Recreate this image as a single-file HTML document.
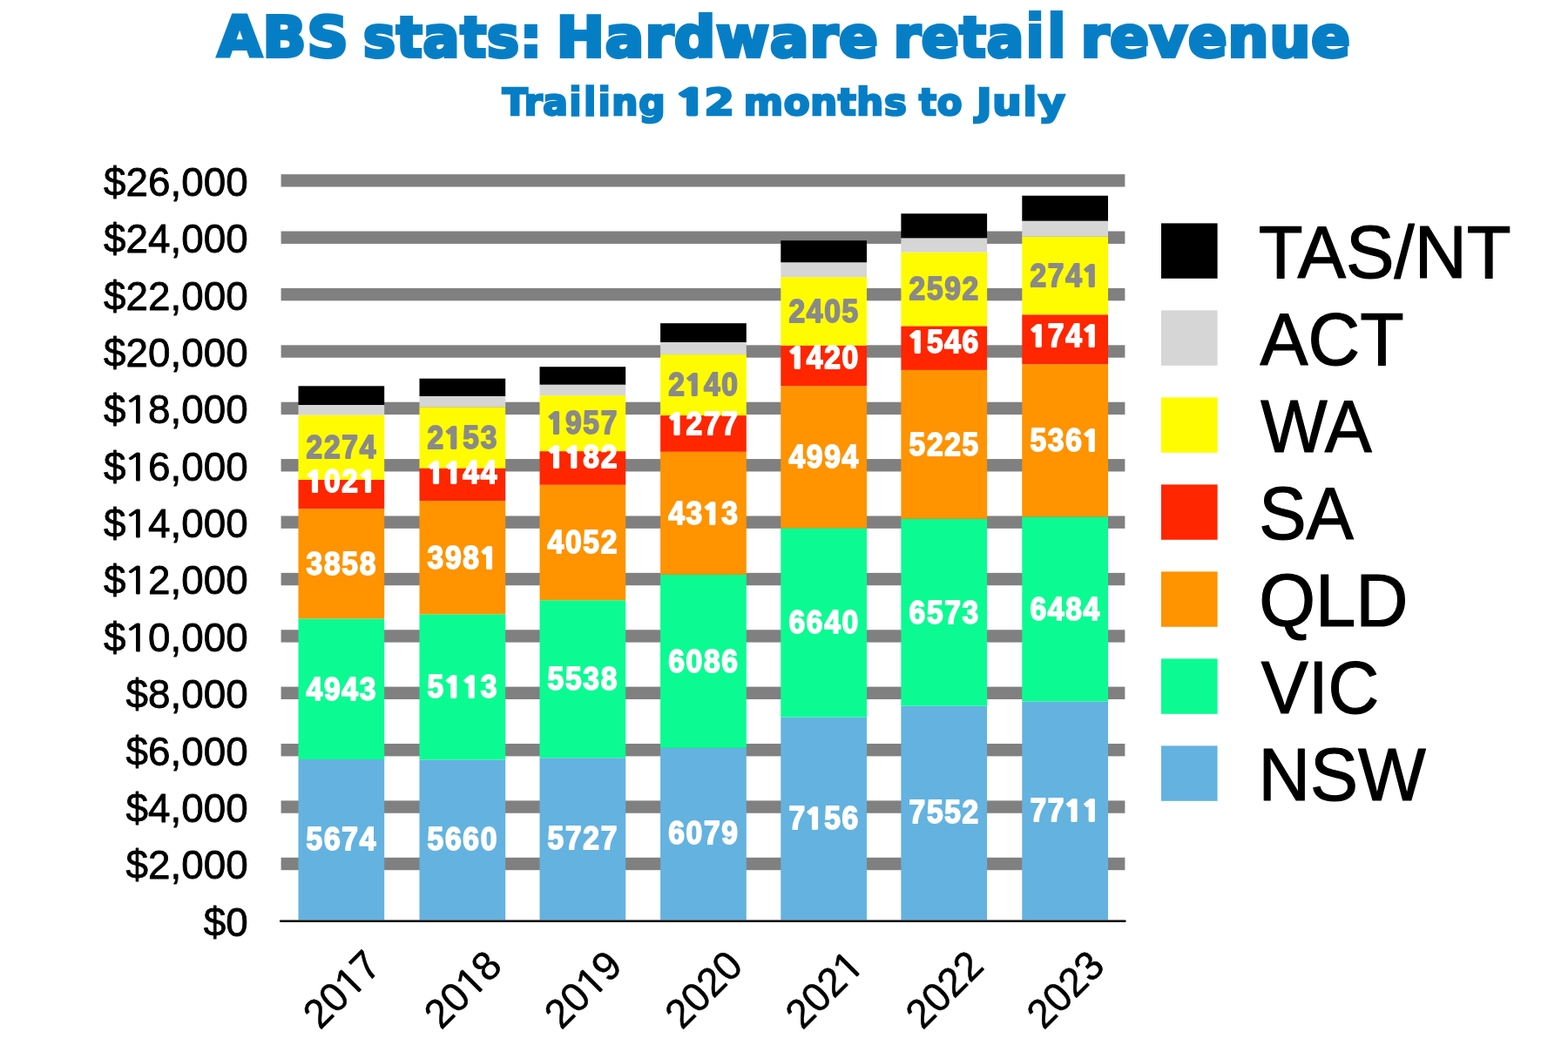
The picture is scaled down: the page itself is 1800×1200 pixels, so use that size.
<!DOCTYPE html>
<html lang="en"><head><meta charset="utf-8"><title>ABS stats: Hardware retail revenue</title>
<style>
html,body{margin:0;padding:0;background:#fff;}
body{width:1800px;height:1200px;overflow:hidden;}
svg{display:block;}
text{font-family:"Liberation Sans",sans-serif;}
.t text{font-family:"DejaVu Sans","Liberation Sans",sans-serif;font-weight:bold;fill:#067EC6;stroke:#067EC6;stroke-linejoin:miter;stroke-miterlimit:2.5;}
.t .ti{font-size:70px;stroke-width:2px;}.t .si{font-size:46.4px;stroke-width:1.4px;}
.t .o3{font-family:"NanumGothic","DejaVu Sans",sans-serif;font-weight:800;font-size:39.3px;stroke-width:3;letter-spacing:0;}
.ax{font-size:46px;fill:#000;text-anchor:start;stroke:#000;stroke-width:0.8;stroke-linejoin:round;}
.xl{font-size:46px;fill:#000;text-anchor:start;stroke:#000;stroke-width:0.55;stroke-linejoin:round;}
.lg{font-size:84px;fill:#000;stroke:#000;stroke-width:1.2;stroke-linejoin:round;}
.dl{font-size:37.5px;font-weight:bold;text-anchor:start;fill:#fff;stroke:#fff;stroke-width:1.8;stroke-linejoin:round;letter-spacing:1.9px;}
.dg{fill:#8A8A8A;stroke:#8A8A8A;}
.o1{font-family:"NanumGothic","Liberation Sans",sans-serif;font-weight:400;font-size:42.4px;stroke-width:0.8;}
.o2{font-family:"NanumGothic","Liberation Sans",sans-serif;font-weight:800;font-size:33.2px;stroke-width:1.8;stroke-linejoin:miter;letter-spacing:0;}
</style></head><body>
<svg width="1800" height="1200" viewBox="0 0 1800 1200">
<rect width="1800" height="1200" fill="#fff"/>
<g class="t" font-size="63.8" stroke-width="4" letter-spacing="1">
<text x="249.67" y="64.7" textLength="150.96" lengthAdjust="spacingAndGlyphs">ABS</text>
<text x="417.06" y="64.7" textLength="205.64" lengthAdjust="spacingAndGlyphs">stats:</text>
<text x="638.69" y="64.7" textLength="370.12" lengthAdjust="spacingAndGlyphs">Hardware</text>
<text x="1025.72" y="64.7" textLength="200.04" lengthAdjust="spacingAndGlyphs">reta<tspan class="ti" dy="1">il</tspan></text>
<text x="1240.85" y="64.7" textLength="310.20" lengthAdjust="spacingAndGlyphs">revenue</text>
</g>
<g class="t" font-size="42.4" stroke-width="2.6" letter-spacing="0.7">
<text x="576.79" y="132.2" textLength="187.45" lengthAdjust="spacingAndGlyphs">Tra<tspan class="si" dy="0.6">ili</tspan><tspan dy="-0.6">ng</tspan></text>
<text x="774.40 808.45" y="132.2"><tspan class="o3" textLength="37.69" lengthAdjust="spacingAndGlyphs">1</tspan><tspan textLength="35.21" lengthAdjust="spacingAndGlyphs">2</tspan></text>
<text x="853.76" y="132.2" textLength="187.83" lengthAdjust="spacingAndGlyphs">months</text>
<text x="1055.12" y="132.2" textLength="50.06" lengthAdjust="spacingAndGlyphs">to</text>
<text x="1121.05" y="132.2" textLength="102.31" lengthAdjust="spacingAndGlyphs">Ju<tspan class="si" dy="0.6">l</tspan><tspan dy="-0.6">y</tspan></text>
</g>
<g fill="#808080">
<rect x="322.6" y="984.77" width="968.8" height="14.4"/>
<rect x="322.6" y="919.38" width="968.8" height="14.4"/>
<rect x="322.6" y="854.00" width="968.8" height="14.4"/>
<rect x="322.6" y="788.61" width="968.8" height="14.4"/>
<rect x="322.6" y="723.23" width="968.8" height="14.4"/>
<rect x="322.6" y="657.84" width="968.8" height="14.4"/>
<rect x="322.6" y="592.46" width="968.8" height="14.4"/>
<rect x="322.6" y="527.07" width="968.8" height="14.4"/>
<rect x="322.6" y="461.69" width="968.8" height="14.4"/>
<rect x="322.6" y="396.30" width="968.8" height="14.4"/>
<rect x="322.6" y="330.92" width="968.8" height="14.4"/>
<rect x="322.6" y="265.53" width="968.8" height="14.4"/>
<rect x="322.6" y="200.15" width="968.8" height="14.4"/>
</g>
<g>
<text class="ax" transform="translate(284.6 1074.80) scale(0.996 1.02)" x="-51.17 -25.59" y="0 0">$0</text>
<text class="ax" transform="translate(284.6 1009.42) scale(0.996 1.02)" x="-140.70 -115.12 -89.53 -76.76 -51.17 -25.59" y="0 0 0 0 0 0">$2,000</text>
<text class="ax" transform="translate(284.6 944.03) scale(0.996 1.02)" x="-140.70 -115.12 -89.53 -76.76 -51.17 -25.59" y="0 0 0 0 0 0">$4,000</text>
<text class="ax" transform="translate(284.6 878.65) scale(0.996 1.02)" x="-140.70 -115.12 -89.53 -76.76 -51.17 -25.59" y="0 0 0 0 0 0">$6,000</text>
<text class="ax" transform="translate(284.6 813.26) scale(0.996 1.02)" x="-140.70 -115.12 -89.53 -76.76 -51.17 -25.59" y="0 0 0 0 0 0">$8,000</text>
<text class="ax" transform="translate(284.6 747.88) scale(0.996 1.02)" x="-166.29 -144.55 -115.12 -89.53 -76.76 -51.17 -25.59" y="0 0 0 0 0 0 0">$<tspan class="o1" textLength="32.12" lengthAdjust="spacingAndGlyphs">1</tspan>0,000</text>
<text class="ax" transform="translate(284.6 682.49) scale(0.996 1.02)" x="-166.29 -144.55 -115.12 -89.53 -76.76 -51.17 -25.59" y="0 0 0 0 0 0 0">$<tspan class="o1" textLength="32.12" lengthAdjust="spacingAndGlyphs">1</tspan>2,000</text>
<text class="ax" transform="translate(284.6 617.11) scale(0.996 1.02)" x="-166.29 -144.55 -115.12 -89.53 -76.76 -51.17 -25.59" y="0 0 0 0 0 0 0">$<tspan class="o1" textLength="32.12" lengthAdjust="spacingAndGlyphs">1</tspan>4,000</text>
<text class="ax" transform="translate(284.6 551.72) scale(0.996 1.02)" x="-166.29 -144.55 -115.12 -89.53 -76.76 -51.17 -25.59" y="0 0 0 0 0 0 0">$<tspan class="o1" textLength="32.12" lengthAdjust="spacingAndGlyphs">1</tspan>6,000</text>
<text class="ax" transform="translate(284.6 486.34) scale(0.996 1.02)" x="-166.29 -144.55 -115.12 -89.53 -76.76 -51.17 -25.59" y="0 0 0 0 0 0 0">$<tspan class="o1" textLength="32.12" lengthAdjust="spacingAndGlyphs">1</tspan>8,000</text>
<text class="ax" transform="translate(284.6 420.95) scale(0.996 1.02)" x="-166.29 -140.70 -115.12 -89.53 -76.76 -51.17 -25.59" y="0 0 0 0 0 0 0">$20,000</text>
<text class="ax" transform="translate(284.6 355.57) scale(0.996 1.02)" x="-166.29 -140.70 -115.12 -89.53 -76.76 -51.17 -25.59" y="0 0 0 0 0 0 0">$22,000</text>
<text class="ax" transform="translate(284.6 290.18) scale(0.996 1.02)" x="-166.29 -140.70 -115.12 -89.53 -76.76 -51.17 -25.59" y="0 0 0 0 0 0 0">$24,000</text>
<text class="ax" transform="translate(284.6 224.80) scale(0.996 1.02)" x="-166.29 -140.70 -115.12 -89.53 -76.76 -51.17 -25.59" y="0 0 0 0 0 0 0">$26,000</text>
</g>
<g>
<rect x="342.50" y="872.00" width="98.70" height="184.40" fill="#64B2E0"/>
<rect x="342.50" y="710.41" width="98.70" height="161.60" fill="#0BFB92"/>
<rect x="342.50" y="584.28" width="98.70" height="126.13" fill="#FF9300"/>
<rect x="342.50" y="550.90" width="98.70" height="33.38" fill="#FF2600"/>
<rect x="342.50" y="476.56" width="98.70" height="74.34" fill="#FFFB00"/>
<rect x="342.50" y="465.00" width="98.70" height="11.56" fill="#D6D6D6"/>
<rect x="342.50" y="443.30" width="98.70" height="21.70" fill="#000000"/>
<text class="dl" transform="translate(392.35 975.95) scale(0.895 1)" x="-45.52 -22.76 0.00 22.76" y="0 0 0 0">5674</text>
<text class="dl" transform="translate(392.35 803.65) scale(0.895 1)" x="-45.52 -22.76 0.00 22.76" y="0 0 0 0">4943</text>
<text class="dl" transform="translate(392.35 659.79) scale(0.895 1)" x="-45.52 -22.76 0.00 22.76" y="0 0 0 0">3858</text>
<text class="dl" transform="translate(392.35 564.53) scale(0.895 1)" x="-48.02 -22.76 0.00 20.26" y="0 0 0 0"><tspan class="o2" textLength="25.15" lengthAdjust="spacingAndGlyphs">1</tspan>02<tspan class="o2" textLength="25.15" lengthAdjust="spacingAndGlyphs">1</tspan></text>
<text class="dl dg" transform="translate(392.35 525.88) scale(0.895 1)" x="-45.52 -22.76 0.00 22.76" y="0 0 0 0">2274</text>
</g>
<g>
<rect x="481.50" y="872.46" width="98.70" height="183.94" fill="#64B2E0"/>
<rect x="481.50" y="705.31" width="98.70" height="167.16" fill="#0BFB92"/>
<rect x="481.50" y="575.16" width="98.70" height="130.15" fill="#FF9300"/>
<rect x="481.50" y="537.76" width="98.70" height="37.40" fill="#FF2600"/>
<rect x="481.50" y="467.37" width="98.70" height="70.39" fill="#FFFB00"/>
<rect x="481.50" y="455.00" width="98.70" height="12.37" fill="#D6D6D6"/>
<rect x="481.50" y="434.70" width="98.70" height="20.30" fill="#000000"/>
<text class="dl" transform="translate(531.35 976.18) scale(0.895 1)" x="-45.52 -22.76 0.00 22.76" y="0 0 0 0">5660</text>
<text class="dl" transform="translate(531.35 801.33) scale(0.895 1)" x="-45.52 -25.26 -2.50 22.76" y="0 0 0 0">5<tspan class="o2" textLength="25.15" lengthAdjust="spacingAndGlyphs">1</tspan><tspan class="o2" textLength="25.15" lengthAdjust="spacingAndGlyphs">1</tspan>3</text>
<text class="dl" transform="translate(531.35 652.68) scale(0.895 1)" x="-45.52 -22.76 0.00 20.26" y="0 0 0 0">398<tspan class="o2" textLength="25.15" lengthAdjust="spacingAndGlyphs">1</tspan></text>
<text class="dl" transform="translate(531.35 555.41) scale(0.895 1)" x="-48.02 -25.26 0.00 22.76" y="0 0 0 0"><tspan class="o2" textLength="25.15" lengthAdjust="spacingAndGlyphs">1</tspan><tspan class="o2" textLength="25.15" lengthAdjust="spacingAndGlyphs">1</tspan>44</text>
<text class="dl dg" transform="translate(531.35 514.71) scale(0.895 1)" x="-45.52 -25.26 0.00 22.76" y="0 0 0 0">2<tspan class="o2" textLength="25.15" lengthAdjust="spacingAndGlyphs">1</tspan>53</text>
</g>
<g>
<rect x="619.50" y="870.27" width="98.70" height="186.13" fill="#64B2E0"/>
<rect x="619.50" y="689.22" width="98.70" height="181.05" fill="#0BFB92"/>
<rect x="619.50" y="556.75" width="98.70" height="132.47" fill="#FF9300"/>
<rect x="619.50" y="518.11" width="98.70" height="38.64" fill="#FF2600"/>
<rect x="619.50" y="454.13" width="98.70" height="63.98" fill="#FFFB00"/>
<rect x="619.50" y="441.70" width="98.70" height="12.43" fill="#D6D6D6"/>
<rect x="619.50" y="421.20" width="98.70" height="20.50" fill="#000000"/>
<text class="dl" transform="translate(669.35 975.09) scale(0.895 1)" x="-45.52 -22.76 0.00 22.76" y="0 0 0 0">5727</text>
<text class="dl" transform="translate(669.35 792.20) scale(0.895 1)" x="-45.52 -22.76 0.00 22.76" y="0 0 0 0">5538</text>
<text class="dl" transform="translate(669.35 635.44) scale(0.895 1)" x="-45.52 -22.76 0.00 22.76" y="0 0 0 0">4052</text>
<text class="dl" transform="translate(669.35 537.00) scale(0.895 1)" x="-48.02 -25.26 0.00 22.76" y="0 0 0 0"><tspan class="o2" textLength="25.15" lengthAdjust="spacingAndGlyphs">1</tspan><tspan class="o2" textLength="25.15" lengthAdjust="spacingAndGlyphs">1</tspan>82</text>
<text class="dl dg" transform="translate(669.35 498.27) scale(0.895 1)" x="-48.02 -22.76 0.00 22.76" y="0 0 0 0"><tspan class="o2" textLength="25.15" lengthAdjust="spacingAndGlyphs">1</tspan>957</text>
</g>
<g>
<rect x="758.10" y="858.76" width="98.70" height="197.64" fill="#64B2E0"/>
<rect x="758.10" y="659.80" width="98.70" height="198.97" fill="#0BFB92"/>
<rect x="758.10" y="518.80" width="98.70" height="141.00" fill="#FF9300"/>
<rect x="758.10" y="477.05" width="98.70" height="41.75" fill="#FF2600"/>
<rect x="758.10" y="407.09" width="98.70" height="69.96" fill="#FFFB00"/>
<rect x="758.10" y="393.00" width="98.70" height="14.09" fill="#D6D6D6"/>
<rect x="758.10" y="371.20" width="98.70" height="21.80" fill="#000000"/>
<text class="dl" transform="translate(807.95 969.33) scale(0.895 1)" x="-45.52 -22.76 0.00 22.76" y="0 0 0 0">6079</text>
<text class="dl" transform="translate(807.95 771.73) scale(0.895 1)" x="-45.52 -22.76 0.00 22.76" y="0 0 0 0">6086</text>
<text class="dl" transform="translate(807.95 601.75) scale(0.895 1)" x="-45.52 -22.76 -2.50 22.76" y="0 0 0 0">43<tspan class="o2" textLength="25.15" lengthAdjust="spacingAndGlyphs">1</tspan>3</text>
<text class="dl" transform="translate(807.95 499.05) scale(0.895 1)" x="-48.02 -22.76 0.00 22.76" y="0 0 0 0"><tspan class="o2" textLength="25.15" lengthAdjust="spacingAndGlyphs">1</tspan>277</text>
<text class="dl dg" transform="translate(807.95 454.22) scale(0.895 1)" x="-45.52 -25.26 0.00 22.76" y="0 0 0 0">2<tspan class="o2" textLength="25.15" lengthAdjust="spacingAndGlyphs">1</tspan>40</text>
</g>
<g>
<rect x="896.30" y="823.55" width="98.70" height="232.85" fill="#64B2E0"/>
<rect x="896.30" y="606.48" width="98.70" height="217.08" fill="#0BFB92"/>
<rect x="896.30" y="443.21" width="98.70" height="163.27" fill="#FF9300"/>
<rect x="896.30" y="396.79" width="98.70" height="46.42" fill="#FF2600"/>
<rect x="896.30" y="318.16" width="98.70" height="78.62" fill="#FFFB00"/>
<rect x="896.30" y="301.30" width="98.70" height="16.86" fill="#D6D6D6"/>
<rect x="896.30" y="276.20" width="98.70" height="25.10" fill="#000000"/>
<text class="dl" transform="translate(946.15 951.73) scale(0.895 1)" x="-45.52 -25.26 0.00 22.76" y="0 0 0 0">7<tspan class="o2" textLength="25.15" lengthAdjust="spacingAndGlyphs">1</tspan>56</text>
<text class="dl" transform="translate(946.15 727.47) scale(0.895 1)" x="-45.52 -22.76 0.00 22.76" y="0 0 0 0">6640</text>
<text class="dl" transform="translate(946.15 537.29) scale(0.895 1)" x="-45.52 -22.76 0.00 22.76" y="0 0 0 0">4994</text>
<text class="dl" transform="translate(946.15 423.46) scale(0.895 1)" x="-48.02 -22.76 0.00 22.76" y="0 0 0 0"><tspan class="o2" textLength="25.15" lengthAdjust="spacingAndGlyphs">1</tspan>420</text>
<text class="dl dg" transform="translate(946.15 369.63) scale(0.895 1)" x="-45.52 -22.76 0.00 22.76" y="0 0 0 0">2405</text>
</g>
<g>
<rect x="1034.40" y="810.61" width="98.70" height="245.79" fill="#64B2E0"/>
<rect x="1034.40" y="595.72" width="98.70" height="214.89" fill="#0BFB92"/>
<rect x="1034.40" y="424.90" width="98.70" height="170.82" fill="#FF9300"/>
<rect x="1034.40" y="374.36" width="98.70" height="50.54" fill="#FF2600"/>
<rect x="1034.40" y="289.62" width="98.70" height="84.74" fill="#FFFB00"/>
<rect x="1034.40" y="273.30" width="98.70" height="16.32" fill="#D6D6D6"/>
<rect x="1034.40" y="245.30" width="98.70" height="28.00" fill="#000000"/>
<text class="dl" transform="translate(1084.25 945.25) scale(0.895 1)" x="-45.52 -22.76 0.00 22.76" y="0 0 0 0">7552</text>
<text class="dl" transform="translate(1084.25 715.61) scale(0.895 1)" x="-45.52 -22.76 0.00 22.76" y="0 0 0 0">6573</text>
<text class="dl" transform="translate(1084.25 522.76) scale(0.895 1)" x="-45.52 -22.76 0.00 22.76" y="0 0 0 0">5225</text>
<text class="dl" transform="translate(1084.25 405.15) scale(0.895 1)" x="-48.02 -22.76 0.00 22.76" y="0 0 0 0"><tspan class="o2" textLength="25.15" lengthAdjust="spacingAndGlyphs">1</tspan>546</text>
<text class="dl dg" transform="translate(1084.25 344.14) scale(0.895 1)" x="-45.52 -22.76 0.00 22.76" y="0 0 0 0">2592</text>
</g>
<g>
<rect x="1173.30" y="805.41" width="98.70" height="250.99" fill="#64B2E0"/>
<rect x="1173.30" y="593.43" width="98.70" height="211.98" fill="#0BFB92"/>
<rect x="1173.30" y="418.17" width="98.70" height="175.26" fill="#FF9300"/>
<rect x="1173.30" y="361.25" width="98.70" height="56.92" fill="#FF2600"/>
<rect x="1173.30" y="271.64" width="98.70" height="89.61" fill="#FFFB00"/>
<rect x="1173.30" y="253.70" width="98.70" height="17.94" fill="#D6D6D6"/>
<rect x="1173.30" y="224.70" width="98.70" height="29.00" fill="#000000"/>
<text class="dl" transform="translate(1223.15 942.65) scale(0.895 1)" x="-45.52 -22.76 -2.50 20.26" y="0 0 0 0">77<tspan class="o2" textLength="25.15" lengthAdjust="spacingAndGlyphs">1</tspan><tspan class="o2" textLength="25.15" lengthAdjust="spacingAndGlyphs">1</tspan></text>
<text class="dl" transform="translate(1223.15 711.87) scale(0.895 1)" x="-45.52 -22.76 0.00 22.76" y="0 0 0 0">6484</text>
<text class="dl" transform="translate(1223.15 518.25) scale(0.895 1)" x="-45.52 -22.76 0.00 20.26" y="0 0 0 0">536<tspan class="o2" textLength="25.15" lengthAdjust="spacingAndGlyphs">1</tspan></text>
<text class="dl" transform="translate(1223.15 397.62) scale(0.895 1)" x="-48.02 -22.76 0.00 20.26" y="0 0 0 0"><tspan class="o2" textLength="25.15" lengthAdjust="spacingAndGlyphs">1</tspan>74<tspan class="o2" textLength="25.15" lengthAdjust="spacingAndGlyphs">1</tspan></text>
<text class="dl dg" transform="translate(1223.15 328.60) scale(0.895 1)" x="-45.52 -22.76 0.00 20.26" y="0 0 0 0">274<tspan class="o2" textLength="25.15" lengthAdjust="spacingAndGlyphs">1</tspan></text>
</g>
<line x1="322.2" y1="1057.7" x2="1291.4" y2="1057.7" stroke="#000" stroke-width="2.6" stroke-linecap="round"/>
<text class="xl" transform="translate(391.35 1135.40) rotate(-45) scale(0.996 1.02) translate(0 16.8)" x="-51.17 -25.59 -3.85 25.59" y="0 0 0 0">20<tspan class="o1" textLength="32.12" lengthAdjust="spacingAndGlyphs">1</tspan>7</text>
<text class="xl" transform="translate(530.35 1135.40) rotate(-45) scale(0.996 1.02) translate(0 16.8)" x="-51.17 -25.59 -3.85 25.59" y="0 0 0 0">20<tspan class="o1" textLength="32.12" lengthAdjust="spacingAndGlyphs">1</tspan>8</text>
<text class="xl" transform="translate(668.35 1135.40) rotate(-45) scale(0.996 1.02) translate(0 16.8)" x="-51.17 -25.59 -3.85 25.59" y="0 0 0 0">20<tspan class="o1" textLength="32.12" lengthAdjust="spacingAndGlyphs">1</tspan>9</text>
<text class="xl" transform="translate(806.95 1135.40) rotate(-45) scale(0.996 1.02) translate(0 16.8)" x="-51.17 -25.59 0.00 25.59" y="0 0 0 0">2020</text>
<text class="xl" transform="translate(945.15 1135.40) rotate(-45) scale(0.996 1.02) translate(0 16.8)" x="-51.17 -25.59 0.00 21.74" y="0 0 0 0">202<tspan class="o1" textLength="32.12" lengthAdjust="spacingAndGlyphs">1</tspan></text>
<text class="xl" transform="translate(1083.25 1135.40) rotate(-45) scale(0.996 1.02) translate(0 16.8)" x="-51.17 -25.59 0.00 25.59" y="0 0 0 0">2022</text>
<text class="xl" transform="translate(1222.15 1135.40) rotate(-45) scale(0.996 1.02) translate(0 16.8)" x="-51.17 -25.59 0.00 25.59" y="0 0 0 0">2023</text>
<rect x="1333" y="256.4" width="64.6" height="63.4" fill="#000000"/>
<text class="lg" transform="translate(1444.76 319.10) scale(1 1.026)" textLength="289.90" lengthAdjust="spacingAndGlyphs">TAS/NT</text>
<rect x="1333" y="356.4" width="64.6" height="63.4" fill="#D6D6D6"/>
<text class="lg" transform="translate(1446.61 419.10) scale(1 1.026)" textLength="164.97" lengthAdjust="spacingAndGlyphs">ACT</text>
<rect x="1333" y="456.4" width="64.6" height="63.4" fill="#FFFB00"/>
<text class="lg" transform="translate(1447.28 519.10) scale(1 1.026)" textLength="127.42" lengthAdjust="spacingAndGlyphs">WA</text>
<rect x="1333" y="556.4" width="64.6" height="63.4" fill="#FF2600"/>
<text class="lg" transform="translate(1445.25 619.10) scale(1 1.026)" textLength="108.70" lengthAdjust="spacingAndGlyphs">SA</text>
<rect x="1333" y="656.4" width="64.6" height="63.4" fill="#FF9300"/>
<text class="lg" transform="translate(1445.15 719.10) scale(1 1.026)" textLength="171.40" lengthAdjust="spacingAndGlyphs">QLD</text>
<rect x="1333" y="756.4" width="64.6" height="63.4" fill="#0BFB92"/>
<text class="lg" transform="translate(1447.82 819.10) scale(1 1.026)" textLength="135.41" lengthAdjust="spacingAndGlyphs">VIC</text>
<rect x="1333" y="856.4" width="64.6" height="63.4" fill="#64B2E0"/>
<text class="lg" transform="translate(1444.58 919.10) scale(1 1.026)" textLength="192.29" lengthAdjust="spacingAndGlyphs">NSW</text>
</svg>
</body></html>
